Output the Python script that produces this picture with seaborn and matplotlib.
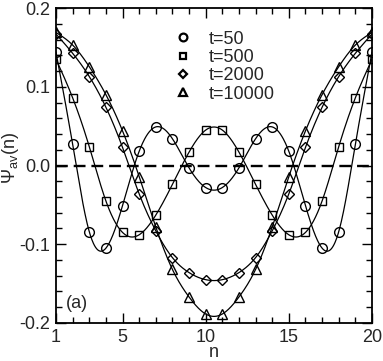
import numpy as np
import pandas as pd
import matplotlib
matplotlib.use("Agg")
import matplotlib.pyplot as plt
import seaborn as sns
from matplotlib.ticker import MultipleLocator, FixedLocator, FuncFormatter
from matplotlib.lines import Line2D
from matplotlib.font_manager import FontProperties

sns.set_style("ticks")
plt.rcParams['font.family'] = ['Liberation Sans', 'DejaVu Sans']
plt.rcParams['mathtext.fontset'] = 'custom'
plt.rcParams['mathtext.rm'] = 'Liberation Sans'
plt.rcParams['mathtext.it'] = 'Liberation Sans'

n_vals = list(range(1, 21))
series_labels = ["t=50", "t=500", "t=2000", "t=10000"]
psi_t50 = [0.144, 0.027, -0.084, -0.105, -0.051, 0.018, 0.049, 0.034, -0.003, -0.028,
           -0.028, -0.003, 0.034, 0.049, 0.018, -0.051, -0.105, -0.084, 0.027, 0.144]
psi_t500 = [0.135, 0.086, 0.024, -0.045, -0.085, -0.088, -0.063, -0.024, 0.017, 0.045,
            0.045, 0.017, -0.024, -0.063, -0.088, -0.085, -0.045, 0.024, 0.086, 0.135]
psi_t2000 = [0.167, 0.1425, 0.113, 0.074, 0.023, -0.036, -0.083, -0.117, -0.136, -0.145,
             -0.145, -0.136, -0.117, -0.083, -0.036, 0.023, 0.074, 0.113, 0.1425, 0.167]
psi_t10000 = [0.169, 0.153, 0.1255, 0.090, 0.044, -0.014, -0.078, -0.132, -0.167, -0.1886,
              -0.1886, -0.167, -0.132, -0.078, -0.014, 0.044, 0.090, 0.1255, 0.153, 0.169]
markers = ["o", "s", "D", "^"]
all_series = [psi_t50, psi_t500, psi_t2000, psi_t10000]


def natural_spline(x, y, xs):
    x = np.asarray(x, float)
    y = np.asarray(y, float)
    n = len(x)
    h = np.diff(x)
    A = np.zeros((n, n))
    b = np.zeros(n)
    A[0, 0] = 1
    A[-1, -1] = 1
    for i in range(1, n - 1):
        A[i, i - 1] = h[i - 1]
        A[i, i] = 2 * (h[i - 1] + h[i])
        A[i, i + 1] = h[i]
        b[i] = 3 * ((y[i + 1] - y[i]) / h[i] - (y[i] - y[i - 1]) / h[i - 1])
    c = np.linalg.solve(A, b)
    bb = (y[1:] - y[:-1]) / h - h * (2 * c[:-1] + c[1:]) / 3
    d = (c[1:] - c[:-1]) / (3 * h)
    idx = np.clip(np.searchsorted(x, xs) - 1, 0, n - 2)
    dx = xs - x[idx]
    return y[idx] + bb[idx] * dx + c[idx] * dx ** 2 + d[idx] * dx ** 3


rows = []
curve_rows = []
xs = np.linspace(1, 20, 600)
for lab, vals in zip(series_labels, all_series):
    for n, v in zip(n_vals, vals):
        rows.append({"n": n, "psi": v, "t": lab})
    ys = natural_spline(n_vals, vals, xs)
    for xv, yv in zip(xs, ys):
        curve_rows.append({"n": xv, "psi": yv, "t": lab})
df = pd.DataFrame(rows)
dfc = pd.DataFrame(curve_rows)

fig = plt.figure(figsize=(3.83, 3.61), dpi=100)
ax = fig.add_axes([0.1462, 0.1053, 0.8251, 0.8725])

ax.axhline(0, color="black", lw=1.7, ls=(0, (5, 2.5)), zorder=1)
for lab in series_labels:
    sub = dfc[dfc["t"] == lab]
    sns.lineplot(data=sub, x="n", y="psi", ax=ax, color="black", lw=0.9,
                 legend=False, zorder=2, sort=False)

sizes = {"o": 7, "s": 6, "D": 5.5, "^": 7.5}
for lab, mk in zip(series_labels, markers):
    sub = df[df["t"] == lab]
    ax.plot(sub["n"], sub["psi"], ls="none", marker=mk, ms=sizes[mk],
            mfc="none", mec="black", mew=1.0, zorder=3)

handles = [Line2D([], [], ls="none", marker=mk, ms=sizes[mk] * 0.8, mfc="none",
                  mec="black", mew=1.6) for mk in markers]
leg_font = FontProperties(family="Liberation Sans", size=13)
ax.legend(handles, series_labels, loc="upper left", bbox_to_anchor=(0.36, 0.945),
          frameon=False, prop=leg_font, handletextpad=0.95, labelspacing=0.07,
          handlelength=0.9, borderaxespad=0.0, borderpad=0.3)

ax.set_xlim(1, 20)
ax.set_ylim(-0.2, 0.2)
ax.xaxis.set_major_locator(FixedLocator([1, 5, 10, 15, 20]))
ax.xaxis.set_minor_locator(MultipleLocator(1))
ax.yaxis.set_major_locator(MultipleLocator(0.1))
ax.yaxis.set_minor_locator(MultipleLocator(0.02))
ax.yaxis.set_major_formatter(FuncFormatter(lambda v, p: f"{v:.1f}"))
ax.tick_params(which="both", direction="in", top=True, right=True,
               labelsize=13, width=1.0, color="black", pad=4)
ax.tick_params(which="major", length=7)
ax.tick_params(which="minor", length=4)
for sp in ax.spines.values():
    sp.set_linewidth(1.3)
    sp.set_color("black")

ax.set_xlabel("n", fontsize=13, labelpad=-1)
ax.set_ylabel(r"$\Psi_{\mathrm{av}}$(n)", fontsize=13)
ax.yaxis.set_label_coords(-0.112, 0.525)
ax.text(0.03, 0.035, "(a)", transform=ax.transAxes, fontsize=13, ha="left", va="bottom")

fig.savefig("out.png", dpi=100)
